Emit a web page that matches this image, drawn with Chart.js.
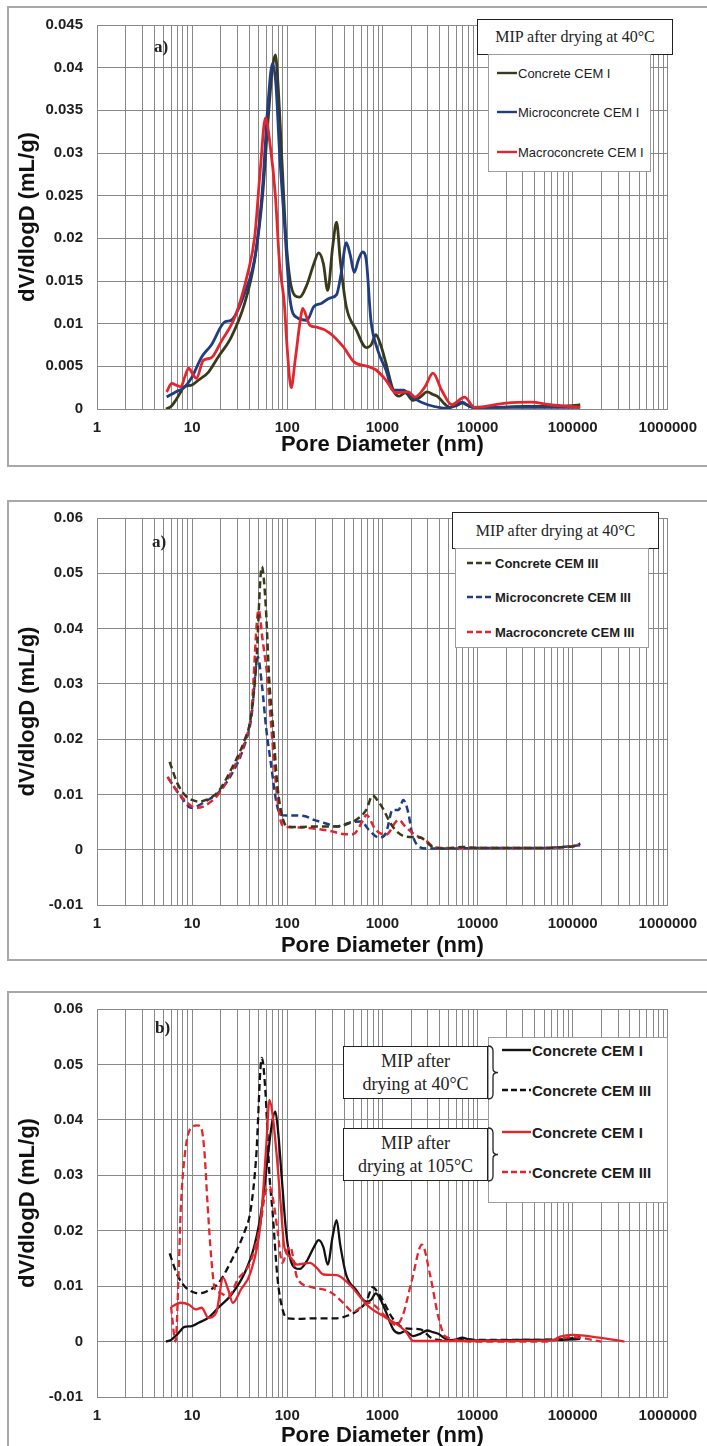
<!DOCTYPE html>
<html>
<head>
<meta charset="utf-8">
<title>MIP pore size distribution</title>
<script src="https://cdn.jsdelivr.net/npm/chart.js@4.4.1/dist/chart.umd.min.js"></script>
<style>
  html, body { margin: 0; padding: 0; background: #fff; }
  body { position: relative; width: 707px; height: 1446px; overflow: hidden; font-family: 'Liberation Sans', Arial, sans-serif; }
  .frame { position: absolute; left: 7px; width: 730px; border: 2px solid #a8a8a8; box-sizing: border-box; }
  canvas { position: absolute; left: 0; }
  .legend { position: absolute; background: #fff; border: 1px solid #9c9c9c; box-sizing: border-box; }
  .item { position: absolute; display: flex; align-items: center; white-space: nowrap; color: #1c1c1c; line-height: 1; }
  .item svg { display: block; }
  .caption { position: absolute; background: #fff; border: 1.5px solid #222; box-sizing: border-box;
             font-family: 'Liberation Serif', 'Times New Roman', serif; color: #222; text-align: center;
             display: flex; flex-direction: column; justify-content: center; }
  .tag { position: absolute; font-family: 'Liberation Serif', 'Times New Roman', serif; font-weight: bold; font-size: 17px; color: #222; }
</style>
</head>
<body>
<div class="frame" style="top:6px;height:461px"></div>
<div class="frame" style="top:500px;height:461px"></div>
<div class="frame" style="top:991px;height:470px"></div>
<canvas id="chartA" width="707" height="470" style="top:0px"></canvas>
<canvas id="chartB" width="707" height="475" style="top:490px"></canvas>
<canvas id="chartC" width="707" height="470" style="top:985px"></canvas>
<div id="overlay"></div>
<script>
// axis labels
const xDecades = [1, 10, 100, 1000, 10000, 100000, 1000000];
const yTicksA = [0, 0.005, 0.01, 0.015, 0.02, 0.025, 0.03, 0.035, 0.04, 0.045];
const yTicksB = [-0.01, 0, 0.01, 0.02, 0.03, 0.04, 0.05, 0.06];
const xTitle = 'Pore Diameter (nm)';
const yTitle = 'dV/dlogD (mL/g)';

// CEM I, dried at 40°C
const diaConcreteI = [5.3, 6.0, 6.7, 7.5, 8.2, 9.9, 11.7, 14.8, 18.8, 25.7, 35.7, 45.5, 55, 63, 70, 75, 80, 88, 97, 107, 120, 135, 160, 190, 214, 240, 266, 300, 330, 360, 417, 530, 676, 760, 853, 960, 1087, 1300, 1500, 1740, 2100, 2500, 2960, 3400, 3870, 4500, 5100, 6000, 6900, 8000, 9300, 15000, 30000, 60000, 100000, 120000];
const valConcreteI = [0, 0.0003, 0.001, 0.0019, 0.0026, 0.0028, 0.0034, 0.0043, 0.0061, 0.0084, 0.0124, 0.0175, 0.025, 0.034, 0.040, 0.0415, 0.038, 0.029, 0.020, 0.0151, 0.0133, 0.0131, 0.0145, 0.0170, 0.0183, 0.0170, 0.0139, 0.019, 0.0219, 0.0175, 0.012, 0.0093, 0.0072, 0.0075, 0.0087, 0.0075, 0.0054, 0.0022, 0.0015, 0.0019, 0.0010, 0.0014, 0.0020, 0.0017, 0.0014, 0.0006, 0.0002, 0.0004, 0.0007, 0.0004, 0.0002, 0.0002, 0.0003, 0.0003, 0.0004, 0.0005];

const diaMicroI = [5.4, 6.7, 8.2, 9.9, 12.6, 15.9, 22, 25.7, 35.7, 46.5, 55, 62, 70, 76, 83, 93, 107, 127, 161, 190, 230, 280, 330, 370, 417, 460, 506, 560, 620, 676, 757, 893, 1087, 1300, 1660, 2100, 3000, 4900, 6900, 8700, 20000, 50000, 120000];
const valMicroI = [0.0014, 0.002, 0.0025, 0.0037, 0.0061, 0.0075, 0.0102, 0.0104, 0.0136, 0.0183, 0.026, 0.035, 0.0405, 0.038, 0.030, 0.022, 0.0128, 0.0107, 0.0104, 0.012, 0.0124, 0.013, 0.0134, 0.016, 0.0195, 0.018, 0.016, 0.0175, 0.0184, 0.0175, 0.0104, 0.0069, 0.0046, 0.0022, 0.0022, 0.0013, 0.0005, 0.0001, 0.0008, 0.0002, 0.0002, 0.0002, 0.0002];

const diaMacroI = [5.4, 6.1, 6.8, 7.6, 8.4, 9.2, 10, 11.1, 13.1, 15.9, 20.2, 28.2, 38.4, 45.5, 52, 59, 66, 75, 83, 93, 100, 110, 121, 137, 145, 173, 204, 280, 387, 506, 700, 853, 1087, 1380, 1870, 2200, 2800, 3400, 4200, 5370, 7300, 9300, 20000, 36000, 58000, 120000];
const valMacroI = [0.002, 0.003, 0.0028, 0.0026, 0.0038, 0.0048, 0.0042, 0.0036, 0.0057, 0.006, 0.0079, 0.0108, 0.0159, 0.0202, 0.028, 0.0341, 0.031, 0.025, 0.017, 0.0124, 0.007, 0.0025, 0.0057, 0.0104, 0.0118, 0.0098, 0.0096, 0.0089, 0.0073, 0.0055, 0.005, 0.0046, 0.0034, 0.0019, 0.002, 0.0014, 0.0026, 0.0042, 0.0022, 0.0005, 0.0014, 0.0002, 0.0007, 0.0008, 0.0005, 0.0002];

// CEM III, dried at 40°C
const diaConcreteIII = [5.8, 7, 8.5, 10, 11.7, 14, 18.8, 25.7, 35.7, 41, 47, 54, 59, 65, 70, 79, 88.6, 100, 130, 200, 330, 450, 530, 676, 790, 900, 1000, 1280, 1740, 2500, 3300, 4600, 7000, 10000, 30000, 100000, 120000];
const valConcreteIII = [0.0159, 0.012, 0.0098, 0.009, 0.0087, 0.009, 0.0105, 0.0145, 0.0199, 0.0235, 0.033, 0.0512, 0.045, 0.030, 0.0235, 0.0114, 0.006, 0.0042, 0.0041, 0.0042, 0.0042, 0.0048, 0.0054, 0.0072, 0.0098, 0.0088, 0.0076, 0.0042, 0.0024, 0.0022, 0.0006, 0.0002, 0.0005, 0.0003, 0.0003, 0.0006, 0.0011];

const diaMicroIII = [5.6, 7, 8.5, 9.6, 11, 14, 18.8, 25.7, 35.7, 42, 49, 54, 60, 68, 77, 85, 100, 150, 190, 250, 330, 450, 600, 720, 920, 1090, 1280, 1480, 1660, 1870, 2050, 2400, 3000, 5000, 10000, 50000, 120000];
const valMicroIII = [0.013, 0.0105, 0.0085, 0.0076, 0.0078, 0.0088, 0.0103, 0.0135, 0.019, 0.024, 0.0349, 0.030, 0.022, 0.015, 0.0085, 0.0063, 0.0062, 0.0061, 0.0054, 0.0048, 0.0042, 0.0049, 0.0051, 0.0036, 0.0022, 0.003, 0.0072, 0.0072, 0.009, 0.0067, 0.003, 0.0006, 0.0002, 0.0002, 0.0003, 0.0003, 0.0008];

const diaMacroIII = [5.5, 7, 8.5, 10, 10.9, 13, 18.8, 25.7, 35.7, 42, 50, 55, 62, 67, 79, 88, 100, 150, 200, 300, 400, 490, 630, 676, 850, 1090, 1480, 1740, 2200, 2800, 3600, 6000, 10000, 30000, 100000, 120000];
const valMacroIII = [0.0132, 0.0105, 0.0088, 0.0078, 0.0076, 0.0078, 0.0100, 0.014, 0.0195, 0.025, 0.0434, 0.038, 0.031, 0.0235, 0.009, 0.0045, 0.0041, 0.0040, 0.0038, 0.0033, 0.0028, 0.0028, 0.0054, 0.0063, 0.0036, 0.0027, 0.0054, 0.0042, 0.0027, 0.0018, 0.0004, 0.0003, 0.0003, 0.0003, 0.0006, 0.0011];

// concrete dried at 105°C
const diaConcreteI105 = [6.1, 7.6, 9.2, 10.9, 12.6, 14.8, 17.9, 21.2, 23.9, 26.8, 32.6, 41, 52.5, 60, 65, 70, 78, 86, 93, 107, 127, 173, 204, 240, 330, 450, 720, 1090, 1540, 1800, 2100, 5000, 20000, 60000, 74000, 100000, 190000, 350000];
const valConcreteI105 = [0.0063, 0.007, 0.0067, 0.0058, 0.0061, 0.0043, 0.0052, 0.0115, 0.0094, 0.007, 0.0094, 0.0124, 0.0214, 0.035, 0.0436, 0.041, 0.033, 0.024, 0.0171, 0.0153, 0.0139, 0.0142, 0.0133, 0.0121, 0.012, 0.0103, 0.0063, 0.0043, 0.0027, 0.0016, 0.0001, 0.0001, 0.0001, 0.0002, 0.0009, 0.0012, 0.0007, 0];

const diaConcreteIII105 = [6.0, 6.7, 7.2, 7.6, 8.5, 9.9, 11.4, 12.5, 13.5, 14.5, 15.9, 17.4, 19.7, 23.9, 30.2, 41, 52.5, 59, 65, 72, 79, 88.6, 100, 107, 127, 173, 280, 387, 490, 720, 1090, 1380, 1620, 2050, 2600, 3200, 3870, 4600, 10000, 50000, 100000, 200000];
const valConcreteIII105 = [0.0063, 0, 0.012, 0.024, 0.0346, 0.0387, 0.039, 0.0385, 0.034, 0.025, 0.015, 0.0094, 0.0088, 0.0081, 0.0112, 0.0144, 0.0214, 0.027, 0.028, 0.025, 0.02, 0.0142, 0.0165, 0.0171, 0.0115, 0.0099, 0.009, 0.007, 0.0054, 0.007, 0.0045, 0.003, 0.0045, 0.0112, 0.0175, 0.0117, 0.0045, 0.0009, 0, 0, 0.0008, 0];

const OLIVE = '#39391c', NAVY = '#1f3d82', RED = '#e3262d', BLACK = '#121212';
const GRID = '#888888';
const DASH = [7, 4];

// log grid: every 1..9 multiple of each decade
const gridDia = [];
xDecades.forEach((d, i) => {
  if (i === xDecades.length - 1) { gridDia.push(d); return; }
  for (let k = 1; k <= 9; k++) gridDia.push(k * d);
});

Chart.defaults.font.family = "'Liberation Sans', Arial, sans-serif";

function buildChart(id, cfg) {
  const plotTop = cfg.plotTop - cfg.top;
  const plotBottom = cfg.plotBottom - cfg.top;
  const axisHeight = cfg.height - plotBottom;
  const titlePad = cfg.height - 13.2 - (cfg.titleY - cfg.top);
  const yMin = cfg.yTicks[0], yMax = cfg.yTicks[cfg.yTicks.length - 1];

  return new Chart(document.getElementById(id), {
    type: 'line',
    data: {
      datasets: cfg.series.map(s => ({
        label: s.label,
        data: s.dia.map((d, i) => ({ x: d, y: s.val[i] })),
        borderColor: s.color,
        borderWidth: s.width,
        borderDash: s.dash || [],
        pointRadius: 0,
        fill: false,
        cubicInterpolationMode: 'monotone',
        order: s.order
      }))
    },
    options: {
      responsive: false,
      animation: false,
      devicePixelRatio: 1,
      layout: { padding: { left: 8, top: plotTop, right: 31, bottom: 0 } },
      plugins: { legend: { display: false }, tooltip: { enabled: false } },
      scales: {
        x: {
          type: 'logarithmic',
          min: 1,
          max: 1000000,
          afterBuildTicks: s => { s.ticks = gridDia.map(v => ({ value: v })); },
          afterFit: s => { s.height = axisHeight; },
          grid: { color: GRID, lineWidth: 1, drawTicks: false },
          border: { color: GRID },
          ticks: {
            autoSkip: false, maxRotation: 0, padding: 10, color: '#1e1e1e',
            font: { size: 15, weight: 'bold' },
            callback: v => xDecades.includes(v) ? String(v) : ''
          },
          title: {
            display: true, text: xTitle, color: '#111',
            font: { size: 22, weight: 'bold' },
            padding: { top: 0, bottom: titlePad }
          }
        },
        y: {
          min: yMin,
          max: yMax,
          afterBuildTicks: s => { s.ticks = cfg.yTicks.map(v => ({ value: v })); },
          afterFit: s => { s.width = 89; },
          grid: { color: GRID, lineWidth: 1, drawTicks: false },
          border: { color: GRID },
          ticks: {
            padding: 14, color: '#1e1e1e',
            font: { size: 15, weight: 'bold' },
            callback: v => String(v)
          },
          title: {
            display: true, text: yTitle, color: '#111',
            font: { size: 22, weight: 'bold' },
            padding: { top: 7, bottom: 0 }
          }
        }
      }
    }
  });
}

const seriesA = [
  { label: 'Concrete CEM I', dia: diaConcreteI, val: valConcreteI, color: OLIVE, width: 2.8, order: 2 },
  { label: 'Microconcrete CEM I', dia: diaMicroI, val: valMicroI, color: NAVY, width: 2.8, order: 1 },
  { label: 'Macroconcrete CEM I', dia: diaMacroI, val: valMacroI, color: RED, width: 2.8, order: 0 }
];
const seriesB = [
  { label: 'Concrete CEM III', dia: diaConcreteIII, val: valConcreteIII, color: OLIVE, width: 2.5, dash: DASH, order: 0 },
  { label: 'Microconcrete CEM III', dia: diaMicroIII, val: valMicroIII, color: NAVY, width: 2.5, dash: DASH, order: 2 },
  { label: 'Macroconcrete CEM III', dia: diaMacroIII, val: valMacroIII, color: RED, width: 2.5, dash: DASH, order: 1 }
];
const seriesC = [
  { label: 'Concrete CEM I', dia: diaConcreteI, val: valConcreteI, color: BLACK, width: 2.3, order: 3 },
  { label: 'Concrete CEM III', dia: diaConcreteIII, val: valConcreteIII, color: BLACK, width: 2.3, dash: DASH, order: 2 },
  { label: 'Concrete CEM I', dia: diaConcreteI105, val: valConcreteI105, color: RED, width: 2.3, order: 1 },
  { label: 'Concrete CEM III', dia: diaConcreteIII105, val: valConcreteIII105, color: RED, width: 2.3, dash: DASH, order: 0 }
];

buildChart('chartA', { top: 0, height: 470, plotTop: 25, plotBottom: 409, titleY: 445, yTicks: yTicksA, series: seriesA });
buildChart('chartB', { top: 490, height: 475, plotTop: 518, plotBottom: 905, titleY: 946, yTicks: yTicksB, series: seriesB });
buildChart('chartC', { top: 985, height: 470, plotTop: 1009, plotBottom: 1397, titleY: 1436, yTicks: yTicksB, series: seriesC });

// ---- legends and captions (page coordinates) ----
const overlay = document.getElementById('overlay');

function el(cls, css, html) {
  const d = document.createElement('div');
  d.className = cls;
  d.style.cssText = css;
  if (html !== undefined) d.innerHTML = html;
  overlay.appendChild(d);
  return d;
}

function sample(s, w) {
  const dash = s.dash ? `stroke-dasharray="6 3"` : '';
  return `<svg width="${w}" height="8"><line x1="0" y1="4" x2="${w}" y2="4" stroke="${s.color}" stroke-width="2.4" ${dash}/></svg>`;
}

function legend(box, series, rows, opt) {
  el('legend', `left:${box.x}px;top:${box.y}px;width:${box.w}px;height:${box.h}px`);
  series.forEach((s, i) => {
    el('item', `left:${opt.x0}px;top:${rows[i] - 9}px;height:18px;font-size:${opt.size}px;font-weight:${opt.weight}`,
      sample(s, opt.lineW) + `<span style="margin-left:1px">${s.label}</span>`);
  });
}

// top chart
el('caption', 'left:477px;top:19px;width:196px;height:36px;font-size:16px', 'MIP after drying at 40°C');
legend({ x: 488, y: 54, w: 163, h: 118 }, seriesA, [73, 112, 152], { x0: 497, lineW: 20, size: 13, weight: 'normal' });
el('tag', 'left:154px;top:37px', 'a)');

// middle chart
el('caption', 'left:452px;top:512px;width:207px;height:37px;font-size:16px', 'MIP after drying at 40°C');
legend({ x: 455, y: 548, w: 194, h: 100 }, seriesB, [563, 597, 632], { x0: 467, lineW: 27, size: 13, weight: 'bold' });
el('tag', 'left:152px;top:532px', 'a)');

// bottom chart
legend({ x: 488, y: 1037, w: 180, h: 166 }, seriesC, [1050, 1090, 1132, 1172], { x0: 502, lineW: 29, size: 15, weight: 'bold' });
el('caption', 'left:343px;top:1046px;width:145px;height:53px;font-size:18px;line-height:23px', 'MIP after<br>drying at 40°C');
el('caption', 'left:343px;top:1128px;width:145px;height:53px;font-size:18px;line-height:23px', 'MIP after<br>drying at 105°C');
el('tag', 'left:155px;top:1018px', 'b)');

// curly braces joining each caption to its pair of legend rows
const braces = document.createElementNS('http://www.w3.org/2000/svg', 'svg');
braces.setAttribute('width', '707');
braces.setAttribute('height', '1446');
braces.style.cssText = 'position:absolute;left:0;top:0;pointer-events:none';
[[1046, 1099], [1128, 1181]].forEach(([y0, y1]) => {
  const m = (y0 + y1) / 2;
  const p = document.createElementNS('http://www.w3.org/2000/svg', 'path');
  p.setAttribute('d', `M488 ${y0} Q493 ${y0} 493 ${y0 + 5} L493 ${m - 4} Q493 ${m} 498 ${m} Q493 ${m} 493 ${m + 4} L493 ${y1 - 5} Q493 ${y1} 488 ${y1}`);
  p.setAttribute('fill', 'none');
  p.setAttribute('stroke', '#222');
  p.setAttribute('stroke-width', '1.3');
  braces.appendChild(p);
});
overlay.appendChild(braces);
</script>
</body>
</html>
